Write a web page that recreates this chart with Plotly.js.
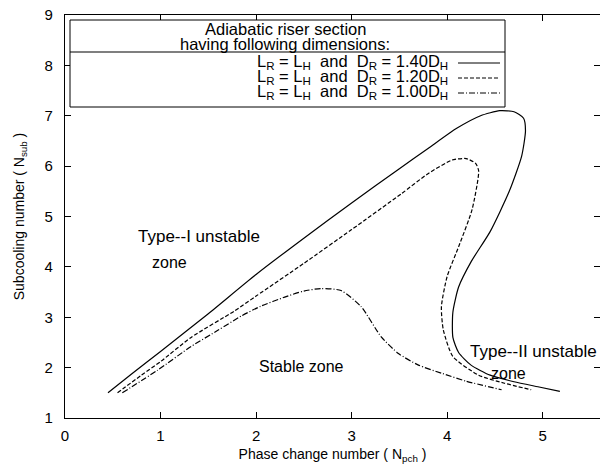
<!DOCTYPE html>
<html><head><meta charset="utf-8">
<script src="https://cdn.plot.ly/plotly-3.0.1.min.js"></script>
<style>html,body{margin:0;padding:0;background:#fff;}</style>
</head><body>
<div id="chart" style="width:607px;height:470px;"></div>
<script>
// D_R = 1.40 D_H (solid)
const x140 = [0.45,0.70,1.00,1.50,2.00,2.50,3.00,3.50,3.80,4.10,4.35,4.55,4.70,4.80,4.82,4.78,4.65,4.45,4.25,4.12,4.06,4.06,4.12,4.25,4.45,4.70,4.95,5.18];
const y140 = [1.50,1.88,2.32,3.07,3.85,4.57,5.27,5.95,6.35,6.75,7.00,7.10,7.08,6.95,6.70,6.20,5.50,4.70,4.10,3.60,3.10,2.60,2.30,2.05,1.85,1.72,1.62,1.53];
// D_R = 1.20 D_H (dashed)
const x120 = [0.55,0.80,1.00,1.32,1.77,2.00,2.50,3.00,3.52,3.80,4.05,4.20,4.30,4.33,4.26,4.12,4.00,3.94,3.96,4.06,4.33,4.60,4.88];
const y120 = [1.50,1.85,2.12,2.60,3.12,3.42,4.07,4.74,5.45,5.85,6.12,6.15,6.05,5.90,5.13,4.40,3.81,3.21,2.75,2.22,1.85,1.69,1.56];
// D_R = 1.00 D_H (dash-dot)
const x100 = [0.60,0.97,1.32,1.60,1.85,2.05,2.30,2.50,2.68,2.89,3.10,3.31,3.49,3.70,3.94,4.20,4.57];
const y100 = [1.50,1.95,2.42,2.74,3.03,3.22,3.40,3.52,3.57,3.53,3.21,2.61,2.28,2.05,1.89,1.73,1.56];

const legendTitle = ["Adiabatic riser section","having following dimensions:"];
const legendLabels = ["1.40","1.20","1.00"];
const dashes = ["solid","4px,2px","6px,2px,1px,2px"];

const xs=[x140,x120,x100], ys=[y140,y120,y100];
const traces = xs.map((x,i)=>({x:x,y:ys[i],type:'scatter',mode:'lines',line:{color:'#000',width:1.2,dash:dashes[i],shape:'spline',smoothing:0.6},showlegend:false,hoverinfo:'skip'}));
traces.push({x:[0],y:[1],yaxis:'y2',type:'scatter',mode:'none',showlegend:false,hoverinfo:'skip'});

const F = {family:'"Liberation Sans", Arial, sans-serif', color:'#000'};
const nb='\u00a0';
const px=(v)=>(v-65)/535, py=(v)=>(418-v)/403;
const annotations = [];
const A=(o,size)=>Object.assign({showarrow:false,xanchor:'center',yanchor:'middle',font:Object.assign({size:size},F)},o);
annotations.push(A({xref:'paper',yref:'paper',x:px(285),y:py(29),text:legendTitle[0]},16.5));
annotations.push(A({xref:'paper',yref:'paper',x:px(285),y:py(44),text:legendTitle[1]},16.5));
const shapes = [
 {type:'rect',xref:'paper',yref:'paper',x0:px(70),x1:px(505),y0:py(107),y1:py(20),line:{color:'#000',width:1},fillcolor:'#fff',layer:'above'},
 {type:'line',xref:'paper',yref:'paper',x0:px(70),x1:px(505),y0:py(52),y1:py(52),line:{color:'#000',width:1.2}}
];
const rowY=[62,77,92];
legendLabels.forEach((v,i)=>{
  annotations.push(A({xref:'paper',yref:'paper',x:px(450),y:py(rowY[i]),xanchor:'right',
    text:'L<sub>R</sub> = L<sub>H</sub>'+nb+nb+'and'+nb+nb+'D<sub>R</sub> = '+v+'D<sub>H</sub>'},16.5));
  shapes.push({type:'line',xref:'paper',yref:'paper',x0:px(458),x1:px(500),y0:py(rowY[i]+1),y1:py(rowY[i]+1),line:{color:'#000',width:1,dash:dashes[i]}});
});
annotations.push(A({xref:'x',yref:'y',x:0.74,y:4.61,xanchor:'left',text:'Type--I'+nb+'unstable'},17));
annotations.push(A({xref:'x',yref:'y',x:0.89,y:4.09,xanchor:'left',text:'zone'},16));
annotations.push(A({xref:'x',yref:'y',x:4.22,y:2.33,xanchor:'left',text:'Type--II'+nb+'unstable'},17));
annotations.push(A({xref:'x',yref:'y',x:4.44,y:1.88,xanchor:'left',text:'zone'},16));
annotations.push(A({xref:'x',yref:'y',x:2.48,y:2.03,text:'Stable zone'},16));

const layout = {
  width:607,height:470,margin:{l:65,r:7,t:15,b:52},
  paper_bgcolor:'#fff',plot_bgcolor:'#fff',font:F,
  xaxis:{range:[0,5.6],tickvals:[0,1,2,3,4,5],ticks:'inside',ticklen:6,tickcolor:'#000',showline:true,linecolor:'#000',linewidth:1.2,mirror:'ticks',showgrid:false,zeroline:false,ticklabelstandoff:4,
    tickfont:Object.assign({size:15},F),title:{text:'Phase change number ( N<sub>pch</sub> )',font:Object.assign({size:14},F),standoff:6}},
  yaxis:{range:[1,9],tickvals:[1,2,3,4,5,6,7,8,9],ticks:'inside',ticklen:6,tickcolor:'#000',showline:true,linecolor:'#000',linewidth:1.2,showgrid:false,zeroline:false,ticklabelstandoff:8,
    tickfont:Object.assign({size:15},F),title:{text:'Subcooling number ( N<sub>sub</sub> )',font:Object.assign({size:14},F),standoff:16}},
  yaxis2:{range:[1,9],overlaying:'y',side:'right',tickvals:[1,2,3,4,5,6,7,8,9],ticks:'inside',ticklen:6,tickcolor:'#000',showticklabels:false,showline:false,showgrid:false,zeroline:false},
  shapes:shapes,annotations:annotations,showlegend:false
};
Plotly.newPlot('chart',traces,layout,{staticPlot:true});
</script>
</body></html>
